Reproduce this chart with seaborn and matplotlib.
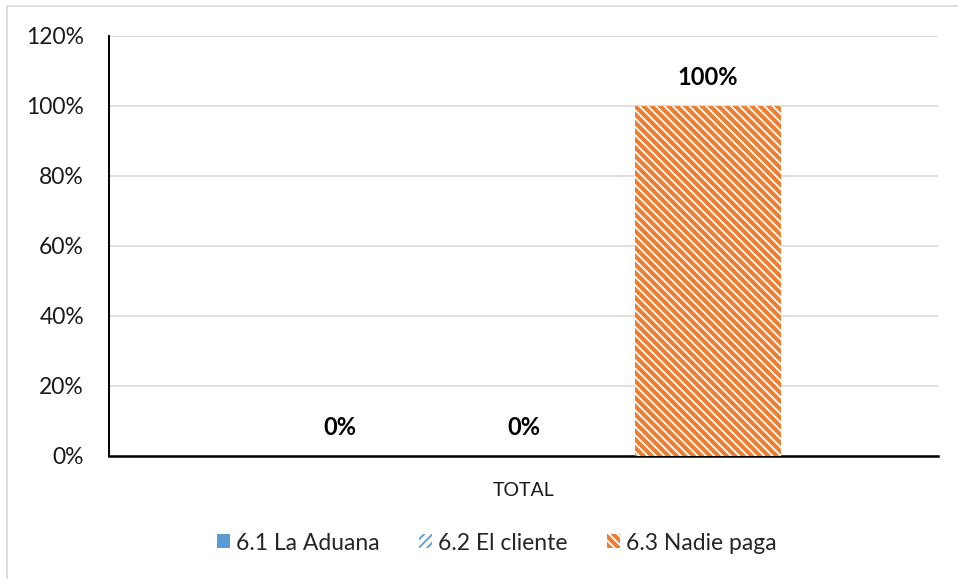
import seaborn as sns
import pandas as pd
import matplotlib.pyplot as plt
from matplotlib.patches import Patch
from matplotlib.lines import Line2D

# values
categoria = ["TOTAL"]
series = ["6.1 La Aduana", "6.2 El cliente", "6.3 Nadie paga"]
valores = [0.0, 0.0, 1.0]
colores = ["#5B9BD5", "#5B9BD5", "#ED7D31"]
yticks = [0, 0.2, 0.4, 0.6, 0.8, 1.0, 1.2]

df = pd.DataFrame({"cat": categoria * len(series), "serie": series, "valor": valores})

sns.set_theme(style="white")
plt.rcParams["font.family"] = ["Lato", "DejaVu Sans"]
plt.rcParams["hatch.linewidth"] = 1.3

fig = plt.figure(figsize=(9.58, 5.79), dpi=100)
ax = fig.add_axes([109 / 958, 1 - 455.5 / 579, (938 - 109) / 958, (455.5 - 35.5) / 579])

sns.barplot(data=df, x="cat", y="valor", hue="serie", palette=colores,
            width=0.666, gap=0.207, legend=False, ax=ax, zorder=3)

# patterns, like the Excel fills
estilos = [("#5B9BD5", "#5B9BD5", None), ("white", "#5B9BD5", "////"),
           ("#ED7D31", "white", "\\\\\\\\")]
for bar, (fc, ec, h) in zip(ax.patches, estilos):
    bar.set_facecolor(fc)
    bar.set_edgecolor(ec)
    bar.set_linewidth(0)
    bar.set_hatch(h)

for cont in ax.containers:
    ax.bar_label(cont, labels=[f"{v * 100:.0f}%" for v in cont.datavalues],
                 padding=12, fontsize=17, fontweight="bold", color="black")

ax.set_xlim(-0.5, 0.5)
ax.set_ylim(0, 1.2)
ax.set_yticks(yticks)
ax.set_yticklabels([f"{t * 100:.0f}%" for t in yticks], fontsize=16.5, color="#1a1a1a")
ax.tick_params(axis="y", length=0, pad=18)
ax.tick_params(axis="x", length=0, pad=19, labelsize=14, labelcolor="#1a1a1a")
ax.set_xlabel("")
ax.set_ylabel("")
ax.grid(axis="y", color="#d9d9d9", linewidth=1.2, zorder=0)
ax.set_axisbelow(True)
for s in ["top", "right"]:
    ax.spines[s].set_visible(False)
ax.spines["left"].set_color("black")
ax.spines["bottom"].set_color("black")
ax.spines["left"].set_linewidth(1.4)
ax.spines["bottom"].set_linewidth(1.8)

handles = [Patch(facecolor=fc, edgecolor=ec, hatch=h, linewidth=0) for fc, ec, h in estilos]
fig.legend(handles, series, loc="center", bbox_to_anchor=(497 / 958, 1 - 543 / 579),
           ncol=3, frameon=False, fontsize=16.5, handlelength=0.55, handleheight=0.55,
           handletextpad=0.3, columnspacing=1.7)

# the thin chart-area border at top and left
fig.add_artist(Line2D([7 / 958, 7 / 958], [0, 1 - 6 / 579], color="#d9d9d9", lw=1.2))
fig.add_artist(Line2D([7 / 958, 1], [1 - 6 / 579, 1 - 6 / 579], color="#d9d9d9", lw=1.2))

fig.savefig("out.png", dpi=100)
